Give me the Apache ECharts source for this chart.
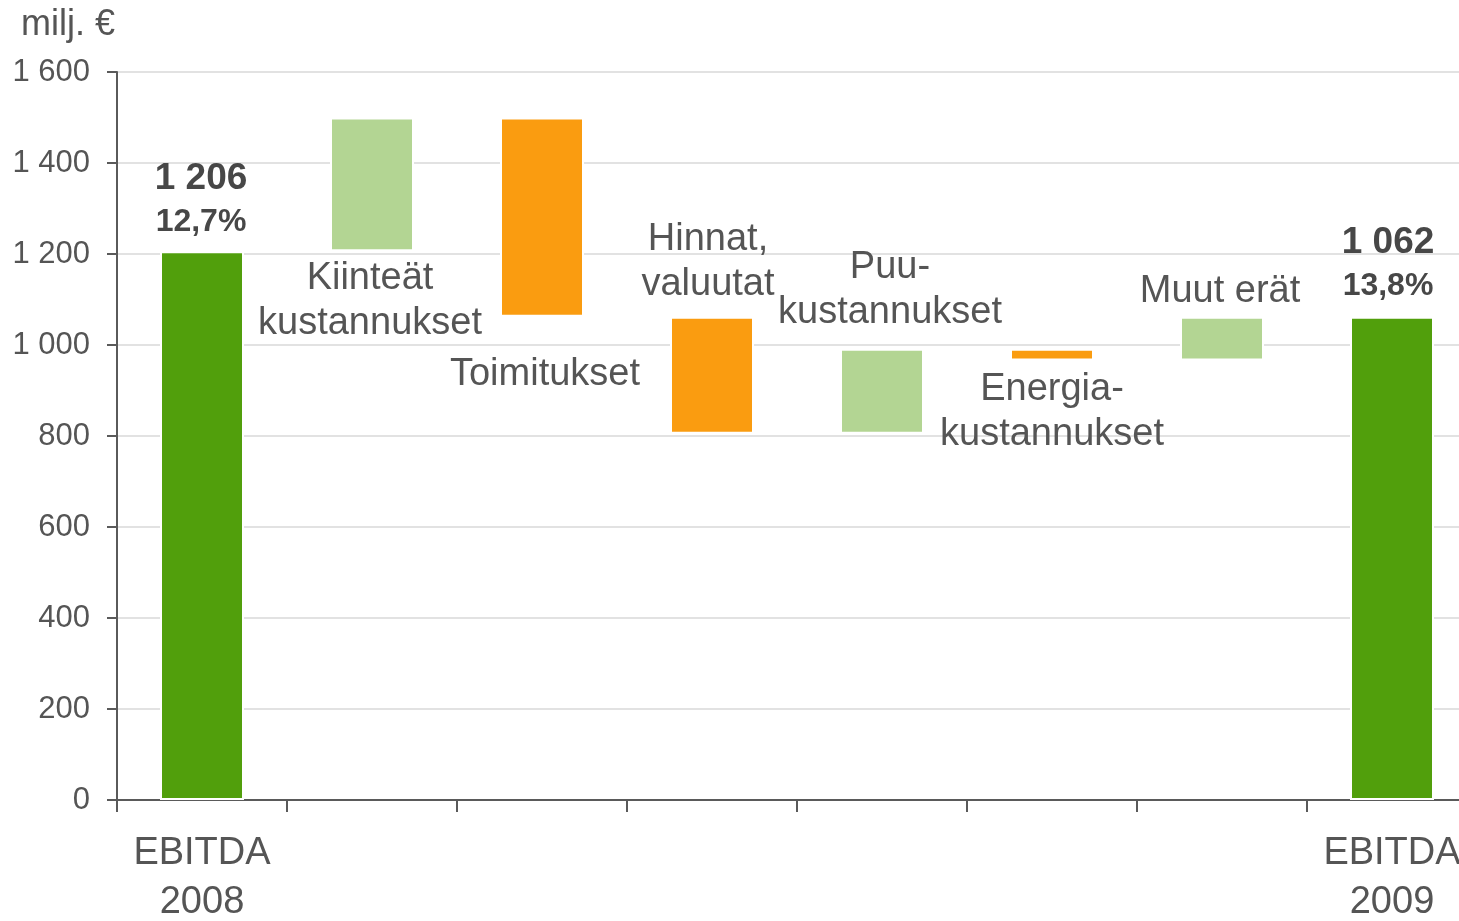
<!DOCTYPE html>
<html>
<head>
<meta charset="utf-8">
<script src="https://cdn.jsdelivr.net/npm/echarts@6/dist/echarts.min.js"></script>
<style>
  html, body { margin: 0; padding: 0; background: #fff; }
  #chart { width: 1459px; height: 921px; }
</style>
</head>
<body>
<div id="chart"></div>
<script>
// categories of the bridge, first and last are totals
var categories = ['EBITDA\n2008', 'Kiinteät\nkustannukset', 'Toimitukset', 'Hinnat,\nvaluutat',
    'Puu-\nkustannukset', 'Energia-\nkustannukset', 'Muut erät', 'EBITDA\n2009'];
// totals for first/last, change for the others (milj. €)
var values = [1206, 294, -438, -257, 187, -26, 96, 1062];
var isTotal = [true, false, false, false, false, false, false, true];
var margins = ['12,7%', '', '', '', '', '', '', '13,8%'];
var yTicks = [0, 200, 400, 600, 800, 1000, 1200, 1400, 1600];

var darkGreen = '#519f0c';
var lightGreen = '#b3d593';
var orange = '#fa9c10';
var textColor = '#555555';

// label placement per bar: top/bottom, distance, horizontal offset
var labelPos = [
    ['top', 8, -1],
    ['bottom', 5, -2],
    ['bottom', 35, 3],
    ['top', 10, -4],
    ['top', 14, 8],
    ['bottom', 7, 0],
    ['top', 3, -2],
    ['top', 9, -4]
];

function fmt(v) {
    return String(v).replace(/\B(?=(\d{3})+(?!\d))/g, ' ');
}

var baseData = [];
var barData = [];
var running = 0;
for (var i = 0; i < values.length; i++) {
    var lp = labelPos[i];
    var item;
    if (isTotal[i]) {
        running = values[i];
        baseData.push(0);
        item = {
            value: values[i],
            itemStyle: { color: darkGreen },
            label: {
                show: true,
                position: lp[0],
                distance: lp[1],
                offset: [lp[2], 0],
                formatter: '{a|' + fmt(values[i]) + '}\n{b|' + margins[i] + '}',
                rich: {
                    a: { fontSize: 37, fontWeight: 'bold', color: '#474747', lineHeight: 43, fontFamily: 'Liberation Sans' },
                    b: { fontSize: 32, fontWeight: 'bold', color: '#474747', lineHeight: 43, fontFamily: 'Liberation Sans' }
                }
            }
        };
    } else {
        var start = running;
        var end = running + values[i];
        running = end;
        baseData.push(Math.min(start, end));
        item = {
            value: Math.abs(values[i]),
            itemStyle: { color: values[i] >= 0 ? lightGreen : orange },
            label: {
                show: true,
                position: lp[0],
                distance: lp[1],
                offset: [lp[2], 0],
                formatter: categories[i],
                fontSize: 38,
                lineHeight: 45,
                color: textColor,
                fontFamily: 'Liberation Sans'
            }
        };
    }
    barData.push(item);
}

var chart = echarts.init(document.getElementById('chart'));

var option = {
    animation: false,
    title: {
        text: 'milj. €',
        left: 16,
        top: 2,
        textStyle: { fontSize: 36, fontWeight: 'normal', color: textColor, fontFamily: 'Liberation Sans' }
    },
    grid: {
        left: 117,
        top: 72,
        bottom: 121,
        right: -18,
        outerBoundsMode: 'none',
        containLabel: false
    },
    xAxis: {
        type: 'category',
        data: categories,
        axisLine: { lineStyle: { color: '#5a5a5a', width: 2 } },
        axisTick: { show: true, length: 12, lineStyle: { color: '#5a5a5a', width: 2 } },
        axisLabel: {
            interval: 0,
            margin: 29,
            fontSize: 38,
            lineHeight: 49,
            color: textColor,
            fontFamily: 'Liberation Sans',
            formatter: function (v, idx) {
                return isTotal[idx] ? v : '';
            }
        }
    },
    yAxis: {
        type: 'value',
        min: yTicks[0],
        max: yTicks[yTicks.length - 1],
        interval: 200,
        axisLine: { show: true, lineStyle: { color: '#5a5a5a', width: 2 } },
        axisTick: { show: true, length: 10, lineStyle: { color: '#5a5a5a', width: 2 } },
        axisLabel: {
            margin: 27,
            fontSize: 31,
            color: textColor,
            fontFamily: 'Liberation Sans',
            formatter: function (v) { return fmt(v); }
        },
        splitLine: { lineStyle: { color: '#d9d9d9', width: 1.5 } }
    },
    series: [
        {
            type: 'bar',
            stack: 'w',
            data: baseData,
            barWidth: 84,
            itemStyle: { color: 'rgba(0,0,0,0)' },
            silent: true
        },
        {
            type: 'bar',
            stack: 'w',
            data: barData,
            barWidth: 84,
            itemStyle: { borderColor: '#ffffff', borderWidth: 2 }
        }
    ]
};

chart.setOption(option);
</script>
</body>
</html>
